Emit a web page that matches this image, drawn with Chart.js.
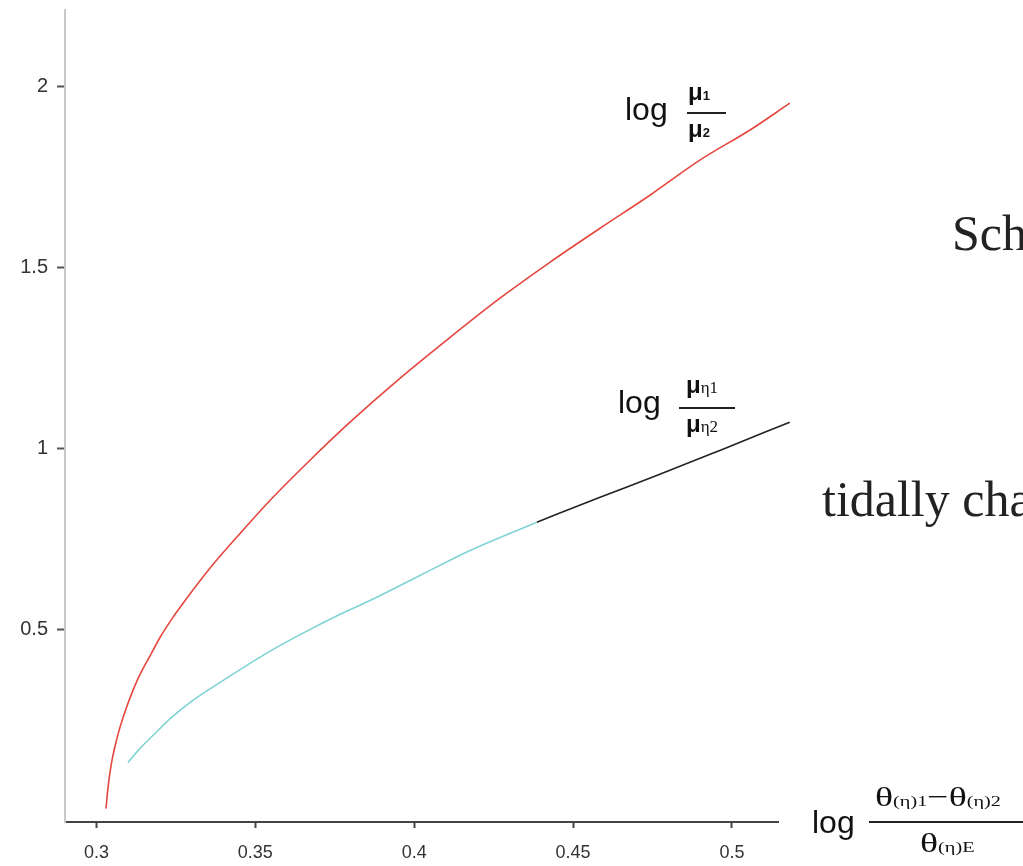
<!DOCTYPE html>
<html>
<head>
<meta charset="utf-8">
<script src="https://cdn.jsdelivr.net/npm/chart.js@4/dist/chart.umd.min.js"></script>
<style>
  body { margin: 0; background: #fff; }
  #wrap { position: relative; width: 1023px; height: 866px; overflow: hidden; }
  #chart { position: absolute; left: 0; top: 0; }
  .t { position: absolute; line-height: 1; white-space: nowrap; color: #111; }
  .sans { font-family: "Liberation Sans", Arial, sans-serif; }
  .serif { font-family: "Liberation Serif", "Times New Roman", serif; }
  .bar { position: absolute; height: 2px; background: #222; }
  .big { font-size: 50px; color: #222; }
</style>
</head>
<body>
<div id="wrap">
  <canvas id="chart" width="1023" height="866"></canvas>

  <!-- label for the upper curve -->
  <div class="t sans" style="left:625px;top:93px;font-size:32px;">log</div>
  <div class="t sans" style="left:688px;top:80px;font-size:24px;font-weight:bold;">μ<span style="font-size:13px;">1</span></div>
  <div class="bar" style="left:687px;top:112px;width:39px;"></div>
  <div class="t sans" style="left:688px;top:117px;font-size:24px;font-weight:bold;">μ<span style="font-size:13px;">2</span></div>

  <!-- label for the lower curve -->
  <div class="t sans" style="left:618px;top:386px;font-size:32px;">log</div>
  <div class="t sans" style="left:686px;top:373px;font-size:24px;font-weight:bold;">μ<span class="serif" style="font-size:17px;font-weight:normal;">η1</span></div>
  <div class="bar" style="left:679px;top:407px;width:56px;"></div>
  <div class="t sans" style="left:686px;top:412px;font-size:24px;font-weight:bold;">μ<span class="serif" style="font-size:17px;font-weight:normal;">η2</span></div>

  <!-- x axis title -->
  <div class="t sans" style="left:812px;top:806px;font-size:32px;">log</div>
  <div class="t serif" style="left:875px;top:783px;font-size:28px;transform:scaleX(1.35);transform-origin:left;">θ<span style="font-size:15px;">(η)1</span>−θ<span style="font-size:15px;">(η)2</span></div>
  <div class="bar" style="left:869px;top:821px;width:154px;"></div>
  <div class="t serif" style="left:920px;top:829px;font-size:28px;transform:scaleX(1.35);transform-origin:left;">θ<span style="font-size:15px;">(η)E</span></div>

  <!-- slide text cut off at the right -->
  <div class="t serif big" style="left:952px;top:208px;">Sch</div>
  <div class="t serif big" style="left:822px;top:474px;">tidally cha</div>
</div>
<script>
// x ticks and y ticks
var xTicks = [0.3, 0.35, 0.4, 0.45, 0.5];
var xTickLabels = ['0.3', '0.35', '0.4', '0.45', '0.5'];
var yTicks = [0.5, 1, 1.5, 2];
var yTickLabels = ['0.5', '1', '1.5', '2'];

// log mu1/mu2 (red)
var redX = [0.3030, 0.3036, 0.3046, 0.3059, 0.3074, 0.3099, 0.3131, 0.3169, 0.3200, 0.3238,
            0.3279, 0.3357, 0.3452, 0.3546, 0.3672, 0.3798, 0.3955, 0.4113, 0.4270, 0.4427,
            0.4585, 0.4742, 0.4899, 0.5057, 0.5182];
var redY = [0.007, 0.062, 0.126, 0.181, 0.231, 0.297, 0.366, 0.429, 0.479, 0.531,
            0.581, 0.670, 0.766, 0.857, 0.968, 1.073, 1.194, 1.307, 1.415, 1.514,
            1.608, 1.699, 1.796, 1.879, 1.953];

// log mu_eta1/mu_eta2, first part (cyan)
var cyanX = [0.3099, 0.3137, 0.3184, 0.3232, 0.3295, 0.3389, 0.3540, 0.3641, 0.3767, 0.3861,
             0.4018, 0.4176, 0.4386];
var cyanY = [0.134, 0.173, 0.214, 0.255, 0.300, 0.355, 0.438, 0.487, 0.543, 0.581,
             0.650, 0.719, 0.797];

// second part (black)
var blackX = [0.4386, 0.4585, 0.4773, 0.4962, 0.5182];
var blackY = [0.797, 0.866, 0.929, 0.995, 1.073];

function pts(xs, ys) {
  return xs.map(function (x, i) { return { x: x, y: ys[i] }; });
}

function line(xs, ys, color) {
  return {
    data: pts(xs, ys),
    borderColor: color,
    borderWidth: 1.6,
    pointRadius: 0,
    cubicInterpolationMode: 'monotone',
    clip: false
  };
}

var tickFont = { family: '"Liberation Sans", Arial, sans-serif', size: 18 };

var ctx = document.getElementById('chart').getContext('2d');
var chart = new Chart(ctx, {
  type: 'line',
  data: {
    datasets: [
      line(redX, redY, '#e5463f'),
      line(cyanX, cyanY, '#7fd3d3'),
      line(blackX, blackY, '#222222')
    ]
  },
  options: {
    responsive: false,
    animation: false,
    layout: { padding: { left: 0, top: 10, right: 245, bottom: 0 } },
    plugins: { legend: { display: false }, tooltip: { enabled: false } },
    scales: {
      x: {
        type: 'linear',
        min: 0.2901,
        max: 0.5145,
        afterFit: function (s) { s.height = 44; s.paddingLeft = 0; s.paddingRight = 0; },
        afterBuildTicks: function (s) {
          s.ticks = xTicks.map(function (v) { return { value: v }; });
        },
        ticks: {
          font: tickFont,
          color: '#333',
          padding: 14,
          maxRotation: 0,
          callback: function (v) { return xTickLabels[xTicks.indexOf(v)]; }
        },
        grid: { drawOnChartArea: false, tickLength: 6, tickColor: '#444', tickWidth: 2 },
        border: { color: '#444', width: 2 }
      },
      y: {
        type: 'linear',
        min: -0.03,
        max: 2.21,
        afterFit: function (s) { s.width = 65; s.paddingTop = 0; s.paddingBottom = 0; },
        afterBuildTicks: function (s) {
          s.ticks = yTicks.map(function (v) { return { value: v }; });
        },
        ticks: {
          font: { family: '"Liberation Sans", Arial, sans-serif', size: 20 },
          color: '#333',
          padding: 9,
          callback: function (v) { return yTickLabels[yTicks.indexOf(v)]; }
        },
        grid: { drawOnChartArea: false, tickLength: 8, tickColor: '#555', tickWidth: 2 },
        border: { color: '#c8c8c8', width: 2 }
      }
    }
  }
});
</script>
</body>
</html>
